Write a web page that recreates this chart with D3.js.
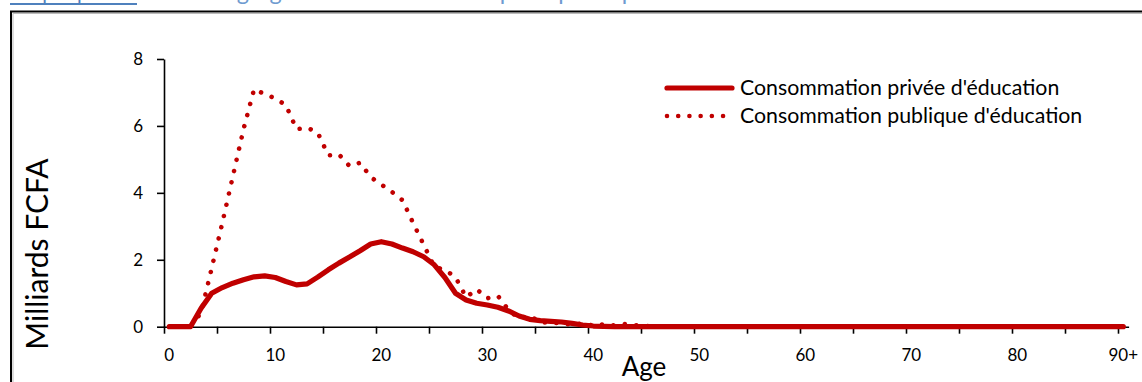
<!DOCTYPE html>
<html>
<head>
<meta charset="utf-8">
<script src="https://cdn.jsdelivr.net/npm/d3@7"></script>
<style>
  html, body { margin: 0; padding: 0; background: #fff; }
  svg { display: block; font-family: Lato, "Open Sans", sans-serif; }
</style>
</head>
<body>
<svg id="chart" width="1142" height="382"></svg>
<script>
'use strict';

// ages 0..89 plus the open class 90+
var ages = d3.range(0, 90).map(String).concat(['90+']);

// Milliards FCFA
var privee = [
    0, 0, 0, 0.55, 1.0, 1.17, 1.3, 1.4, 1.49, 1.52,
    1.47, 1.35, 1.25, 1.28, 1.48, 1.7, 1.9, 2.08, 2.27, 2.47,
    2.54, 2.47, 2.35, 2.24, 2.09, 1.85, 1.47, 1.0, 0.8, 0.7,
    0.65, 0.58, 0.47, 0.32, 0.22, 0.18, 0.16, 0.14, 0.1, 0.05,
    0.02, 0.01
];
var publique = [
    0, 0, 0, 0.42, 1.75, 3.1, 4.5, 5.9, 7.1, 6.95,
    6.82, 6.62, 5.9, 5.95, 5.8, 5.12, 5.15, 4.8, 4.9, 4.47,
    4.25, 4.03, 3.78, 3.1, 2.45, 1.79, 1.7, 1.48, 0.88, 1.12,
    0.85, 0.92, 0.5, 0.25, 0.33, 0.13, 0.12, 0.1, 0.06, 0.1,
    0.03, 0.07, 0.04, 0.08, 0.04, 0.02
];

var yTicks = [0, 2, 4, 6, 8];
var seriesNames = ["Consommation privée d'éducation", "Consommation publique d'éducation"];
var titleLink = 'Graphique 12',
    titleRest = ": Profils agrégés de consommation publique et privée d'éducation";

function padded(arr) {
    return ages.map(function(a, i) { return i < arr.length ? arr[i] : 0; });
}

var RED = '#c00000',
    BLUE = '#4f81bd';

var svg = d3.select('#chart');

// title, cut off by the top of the picture (only descenders show)
svg.append('text')
    .attr('x', 10).attr('y', 0)
    .attr('fill', BLUE)
    .style('font-size', '20.5px')
    .text(titleLink);
svg.append('rect')
    .attr('x', 10).attr('y', 3).attr('width', 127).attr('height', 2)
    .attr('fill', BLUE);
svg.append('text')
    .attr('x', 143).attr('y', 0)
    .attr('fill', '#6f9bd0')
    .style('font-size', '23.5px')
    .text(titleRest);

// frame of the figure box
svg.append('path')
    .attr('d', 'M11,400V11.5H1160')
    .attr('fill', 'none')
    .attr('stroke', '#000')
    .attr('stroke-width', 2);
svg.append('path')
    .attr('d', 'M13,400V13.5H1160')
    .attr('fill', 'none')
    .attr('stroke', '#bbb')
    .attr('stroke-width', 1);

var x0 = 164, x1 = 1128.6, yBottom = 326.7, yTop = 59;

var x = d3.scaleBand().domain(ages).range([x0, x1]).padding(0),
    xEdge = d3.scaleLinear().domain([0, ages.length]).range([x0, x1]),
    y = d3.scaleLinear().domain([0, 8]).range([yBottom, yTop]);

function cx(d, i) { return x(ages[i]) + x.bandwidth() / 2; }

// y axis
var gy = svg.append('g')
    .attr('transform', 'translate(' + x0 + ',0)')
    .call(d3.axisLeft(y).tickValues(yTicks).tickSize(7).tickPadding(14).tickSizeOuter(0));

// x axis: tick marks on category edges, labels on category centres
var gxt = svg.append('g')
    .attr('transform', 'translate(0,' + yBottom + ')')
    .call(d3.axisBottom(xEdge).tickValues(d3.range(0, 91, 5)).tickFormat('').tickSize(7).tickSizeOuter(0));
var gxl = svg.append('g')
    .attr('transform', 'translate(0,' + yBottom + ')')
    .call(d3.axisBottom(x).tickValues(ages.filter(function(a, i) { return i % 10 === 0; })).tickSize(0).tickPadding(22));
gxl.select('.domain').remove();

[gy, gxt].forEach(function(g) {
    g.select('.domain').attr('stroke', '#000').attr('stroke-width', 1.6);
    g.selectAll('.tick line').attr('stroke', '#000').attr('stroke-width', 1.6);
});
[gy, gxl].forEach(function(g) {
    g.selectAll('text')
        .attr('fill', '#000')
        .style('font-family', 'Lato, sans-serif')
        .style('font-size', '17px');
});

// axis titles
svg.append('text')
    .attr('transform', 'translate(48,254) rotate(-90)')
    .attr('text-anchor', 'middle')
    .attr('fill', '#000')
    .style('font-size', '30px')
    .text('Milliards FCFA');
svg.append('text')
    .attr('x', 644).attr('y', 376)
    .attr('text-anchor', 'middle')
    .attr('fill', '#000')
    .style('font-size', '26px')
    .text('Age');

// series
var line = d3.line()
    .x(cx)
    .y(function(d) { return y(d); });

svg.append('path')
    .datum(padded(publique))
    .attr('d', line)
    .attr('fill', 'none')
    .attr('stroke', RED)
    .attr('stroke-width', 4.6)
    .attr('stroke-linecap', 'round')
    .attr('stroke-dasharray', '0.01 11.5');

svg.append('path')
    .datum(padded(privee))
    .attr('d', line)
    .attr('fill', 'none')
    .attr('stroke', RED)
    .attr('stroke-width', 5.2)
    .attr('stroke-linejoin', 'round')
    .attr('stroke-linecap', 'round');

// legend
var legendRows = svg.append('g').selectAll('g')
    .data(seriesNames)
    .enter().append('g')
    .attr('transform', function(d, i) { return 'translate(0,' + (88 + i * 28) + ')'; });

legendRows.append('line')
    .attr('x1', 667)
    .attr('x2', function(d, i) { return i === 0 ? 732 : 726; })
    .attr('y1', 0).attr('y2', 0)
    .attr('stroke', RED)
    .attr('stroke-width', function(d, i) { return i === 0 ? 5.2 : 4.6; })
    .attr('stroke-linecap', 'round')
    .attr('stroke-dasharray', function(d, i) { return i === 0 ? null : '0.01 11.2'; });

legendRows.append('text')
    .attr('x', 740).attr('y', 7)
    .attr('fill', '#000')
    .style('font-size', '21.3px')
    .text(function(d) { return d; });
</script>
</body>
</html>
